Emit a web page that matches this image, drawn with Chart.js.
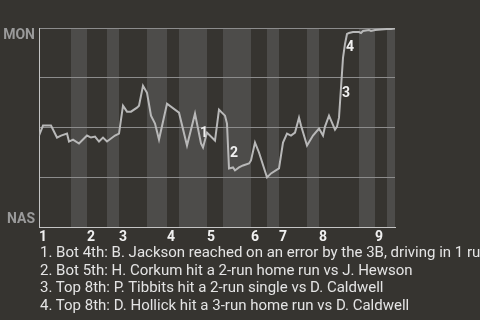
<!DOCTYPE html>
<html>
<head>
<meta charset="utf-8">
<script src="https://cdn.jsdelivr.net/npm/chart.js@4"></script>
<style>
    body { margin: 0; background: #363430; overflow: hidden; }
    #marco { position: relative; width: 480px; height: 320px; overflow: hidden; }
    #grafico { position: absolute; left: 0; top: 0; }
    #notas {
        position: absolute; left: 40px; top: 244px; width: 440px;
        font: 15px Roboto, sans-serif; line-height: 17.7px; color: #e4e4e4;
        white-space: nowrap; overflow: hidden;
    }
</style>
</head>
<body>
<div id="marco">
    <canvas id="grafico" width="480" height="320"></canvas>
    <div id="notas"></div>
</div>
<script>
// Entradas: inicio de la parte alta y de la baja (en jugadas)
const entradas = ["1", "2", "3", "4", "5", "6", "7", "8", "9"];
const inicioAlta = [0, 24, 40, 64, 84, 106, 120, 140, 168];
const inicioBaja = [16, 34, 54, 70, 92, 114, 134, 160, 174];
const finJuego = 178;

// Probabilidad de victoria de MON despues de cada jugada
const jugadas = [0, 2, 6, 9, 11, 14, 15, 17, 20, 24, 26, 28, 30, 32, 34, 38, 40, 42, 44, 46,
    49, 50, 52, 54, 56, 58, 60, 64, 70, 74, 78, 81, 82, 84, 88, 90, 93, 94, 95, 97,
    98, 100, 102, 105, 106, 108, 110, 114, 116, 120, 122, 124, 126, 128, 130, 131, 134, 137, 140, 142,
    143, 145, 148, 149, 150, 151, 152, 153, 154, 155, 157, 160, 161, 162, 165, 166, 168, 174, 176, 178];
const probMON = [0.46, 0.51, 0.51, 0.45, 0.46, 0.47, 0.43, 0.44, 0.42, 0.46, 0.45, 0.455, 0.43, 0.45, 0.43, 0.46, 0.47, 0.61, 0.58, 0.58,
    0.60, 0.61, 0.71, 0.675, 0.56, 0.52, 0.44, 0.62, 0.575, 0.41, 0.57, 0.42, 0.40, 0.475, 0.435, 0.59, 0.56, 0.52, 0.295, 0.30,
    0.285, 0.30, 0.31, 0.32, 0.335, 0.425, 0.375, 0.25, 0.27, 0.295, 0.425, 0.47, 0.46, 0.475, 0.55, 0.51, 0.41, 0.46, 0.495, 0.46,
    0.505, 0.56, 0.49, 0.505, 0.55, 0.70, 0.85, 0.92, 0.97, 0.975, 0.98, 0.98, 0.975, 0.985, 0.99, 0.985, 0.99, 0.995, 0.995, 0.997];

// Jugadas clave marcadas en la linea
const eventos = ["1", "2", "3", "4"];
const eventoJugada = [80, 95, 151, 153];
const eventoProb = [0.47, 0.37, 0.67, 0.90];
const notas = [
    "1. Bot 4th: B. Jackson reached on an error by the 3B, driving in 1 run",
    "2. Bot 5th: H. Corkum hit a 2-run home run vs J. Hewson",
    "3. Top 8th: P. Tibbits hit a 2-run single vs D. Caldwell",
    "4. Top 8th: D. Hollick hit a 3-run home run vs D. Caldwell"
];
const equipos = ["MON", "NAS"];

document.getElementById("notas").innerHTML = notas.map(n => "<div>" + n + "</div>").join("");

// franjas claras para la parte baja de cada entrada
const franjas = {
    id: "franjas",
    beforeDraw(chart) {
        const { ctx, chartArea: a, scales: { x } } = chart;
        ctx.save();
        ctx.fillStyle = "#4d4c4a";
        inicioBaja.forEach((ini, i) => {
            const fin = i + 1 < inicioAlta.length ? inicioAlta[i + 1] : finJuego;
            const x0 = x.getPixelForValue(ini);
            const x1 = x.getPixelForValue(fin);
            ctx.fillRect(x0, a.top, x1 - x0, a.bottom - a.top);
        });
        ctx.restore();
    }
};

const rotulos = {
    id: "rotulos",
    afterDraw(chart) {
        const { ctx, chartArea: a, scales: { x, y } } = chart;
        ctx.save();
        ctx.font = "bold 14px Roboto";
        ctx.fillStyle = "#9a9a9a";
        ctx.textAlign = "right";
        ctx.textBaseline = "alphabetic";
        ctx.fillText(equipos[0], a.left - 4, a.top + 11);
        ctx.fillText(equipos[1], a.left - 4, a.bottom - 4);

        ctx.fillStyle = "#f0f0f0";
        ctx.textAlign = "center";
        ctx.textBaseline = "middle";
        eventos.forEach((t, i) => {
            ctx.fillText(t, x.getPixelForValue(eventoJugada[i]) + 5, y.getPixelForValue(eventoProb[i]));
        });
        ctx.restore();
    }
};

new Chart(document.getElementById("grafico"), {
    type: "line",
    data: {
        datasets: [{
            data: jugadas.map((j, i) => ({ x: j, y: probMON[i] })),
            borderColor: "#b8b8b8",
            borderWidth: 2,
            pointRadius: 0,
            tension: 0
        }]
    },
    options: {
        responsive: false,
        animation: false,
        layout: { padding: { left: 39, right: 85, top: 28, bottom: 72 } },
        plugins: { legend: { display: false }, tooltip: { enabled: false } },
        scales: {
            x: {
                type: "linear",
                min: 0,
                max: finJuego,
                afterBuildTicks: axis => { axis.ticks = inicioAlta.map(v => ({ value: v })); },
                ticks: {
                    autoSkip: false,
                    maxRotation: 0,
                    align: "start",
                    padding: 2,
                    color: "#f0f0f0",
                    font: { family: "Roboto", size: 14, weight: "bold" },
                    callback: v => entradas[inicioAlta.indexOf(v)]
                },
                grid: { drawOnChartArea: false, drawTicks: false },
                border: { color: "#c4c4c4", width: 1 }
            },
            y: {
                min: 0,
                max: 1,
                ticks: { display: false, stepSize: 0.25 },
                grid: { color: "#8c8c8c", drawTicks: false },
                border: { color: "#c4c4c4", width: 1 }
            }
        }
    },
    plugins: [franjas, rotulos]
});
</script>
</body>
</html>
